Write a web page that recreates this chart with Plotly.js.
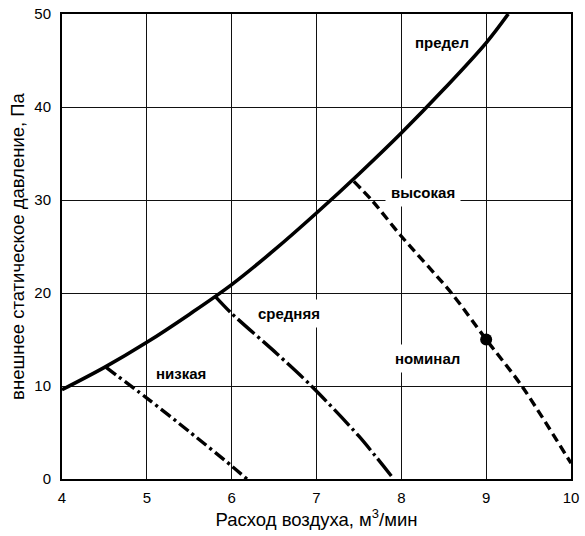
<!DOCTYPE html>
<html><head><meta charset="utf-8">
<script src="https://cdn.plot.ly/plotly-3.0.1.min.js"></script>
<style>body{margin:0;background:#fff}#c{width:585px;height:536px}</style>
</head><body><div id="c"></div>
<script>
const limitX = [4, 4.5, 5, 5.5, 6, 6.5, 7, 7.5, 8, 8.5, 9, 9.26];
const limitY = [9.6, 12.0, 14.7, 17.7, 20.9, 24.6, 28.6, 32.8, 37.2, 41.9, 46.9, 50];
const lowX = [4.52, 5, 5.5, 6, 6.18];
const lowY = [12, 8.7, 5.1, 1.4, 0];
const midX = [5.80, 6, 6.53, 6.94, 7.5, 7.91];
const midY = [19.7, 17.8, 13.5, 10, 4.6, 0];
const highX = [7.44, 7.65, 8, 8.59, 9, 9.42, 10];
const highY = [32, 30, 26.1, 20, 15, 10, 1.7];
const nomX = [9];
const nomY = [15];
const labels = ["предел", "высокая", "средняя", "номинал", "низкая"];
const labelX = [8.48, 8.25, 6.67, 8.31, 5.40];
const labelY = [46.9, 30.8, 17.8, 13.0, 11.3];
const labelBg = [false, true, true, true, false];

const FONT = 'Liberation Sans, Arial, sans-serif';
const traces = [
  {x: limitX, y: limitY, mode: 'lines', line: {color: '#000', width: 3.6, shape: 'spline', smoothing: 1}},
  {x: lowX, y: lowY, mode: 'lines', line: {color: '#000', width: 3.4, dash: '12px,4px,3px,4px', shape: 'spline', smoothing: 0.8}},
  {x: midX, y: midY, mode: 'lines', line: {color: '#000', width: 3.4, dash: '22px,4px,3px,4px', shape: 'spline', smoothing: 0.8}},
  {x: highX, y: highY, mode: 'lines', line: {color: '#000', width: 3.4, dash: '9px,5px', shape: 'spline', smoothing: 0.8}},
  {x: nomX, y: nomY, mode: 'markers', marker: {color: '#000', size: 12}}
];
const annotations = labels.map((t, i) => ({
  x: labelX[i], y: labelY[i], text: '<b>' + t + '</b>', showarrow: false,
  font: {family: FONT, size: 15, color: '#000'},
  bgcolor: labelBg[i] ? '#fff' : 'rgba(0,0,0,0)', borderpad: 5
}));
const axFont = {family: FONT, size: 15, color: '#000'};
const titleFont = {family: FONT, size: 18.5, color: '#000'};
const layout = {
  width: 585, height: 536,
  margin: {l: 62, r: 14, t: 14, b: 57},
  paper_bgcolor: '#fff', plot_bgcolor: '#fff',
  showlegend: false,
  xaxis: {range: [4, 10], dtick: 1, tick0: 4, showgrid: true, gridcolor: '#111', gridwidth: 1,
    zeroline: false, showline: true, linecolor: '#000', linewidth: 2, mirror: true,
    ticks: 'outside', ticklen: 4, tickcolor: 'rgba(0,0,0,0)', tickfont: axFont,
    title: {text: 'Расход воздуха, м<sup>3</sup>/мин', font: titleFont, standoff: 5}},
  yaxis: {range: [0, 50], dtick: 10, showgrid: true, gridcolor: '#111', gridwidth: 1,
    zeroline: false, showline: true, linecolor: '#000', linewidth: 2, mirror: true,
    ticks: 'outside', ticklen: 6, tickcolor: 'rgba(0,0,0,0)', tickfont: axFont,
    title: {text: 'внешнее статическое давление, Па', font: titleFont, standoff: 5}},
  annotations: annotations
};
Plotly.newPlot('c', traces, layout, {staticPlot: true});
</script></body></html>
